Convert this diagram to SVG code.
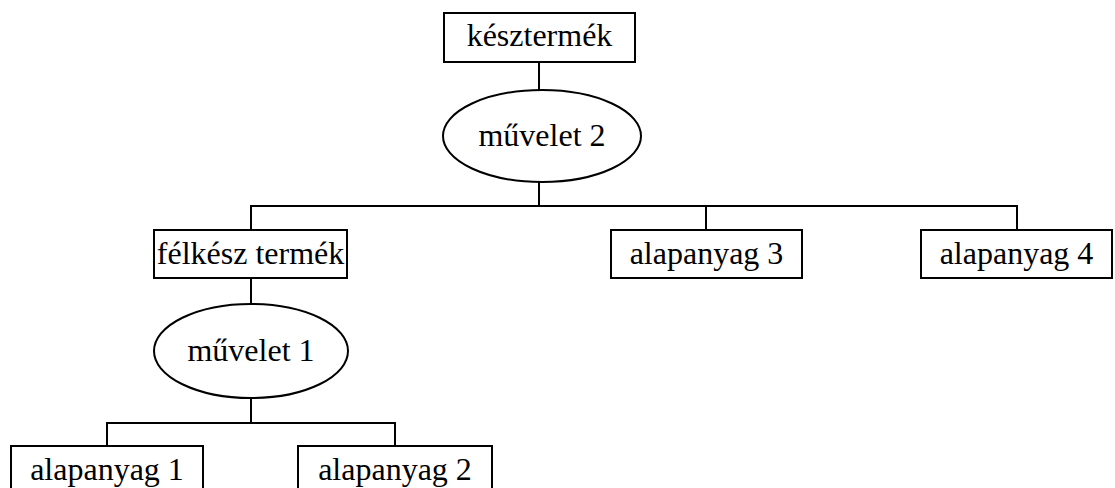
<svg xmlns="http://www.w3.org/2000/svg" width="1115" height="488" viewBox="0 0 1115 488">
  <style>
    .box { fill: #fff; stroke: #000; stroke-width: 2; }
    .op { fill: #fff; stroke: #000; stroke-width: 2; }
    .lbl { font-family: "Liberation Serif", "Times New Roman", serif; font-size: 32px; fill: #000; text-anchor: middle; }
    .wire { fill: none; stroke: #000; stroke-width: 2; }
  </style>
  <rect width="1115" height="488" fill="#fff"/>

  <g id="connectors">
    <line class="wire" x1="539" y1="62" x2="539" y2="90"/>
    <line class="wire" x1="539" y1="182" x2="539" y2="206"/>
    <polyline class="wire" points="251,230 251,206 1017,206 1017,230"/>
    <line class="wire" x1="706" y1="206" x2="706" y2="230"/>
    <line class="wire" x1="251" y1="278" x2="251" y2="304"/>
    <line class="wire" x1="251" y1="398" x2="251" y2="423"/>
    <polyline class="wire" points="107,446 107,423 395,423 395,446"/>
  </g>

  <g id="kesztermek">
    <rect class="box" x="444" y="13" width="191" height="49"/>
    <text class="lbl" x="539.5" y="46">késztermék</text>
  </g>

  <g id="muvelet2">
    <ellipse class="op" cx="542" cy="136" rx="99" ry="46"/>
    <text class="lbl" x="542" y="146">művelet 2</text>
  </g>

  <g id="felkesz">
    <rect class="box" x="154" y="230" width="193" height="48"/>
    <text class="lbl" x="250.5" y="264">félkész termék</text>
  </g>

  <g id="alapanyag3">
    <rect class="box" x="611" y="230" width="191" height="48"/>
    <text class="lbl" x="706.5" y="264">alapanyag 3</text>
  </g>

  <g id="alapanyag4">
    <rect class="box" x="921" y="230" width="191" height="48"/>
    <text class="lbl" x="1016.5" y="264">alapanyag 4</text>
  </g>

  <g id="muvelet1">
    <ellipse class="op" cx="251" cy="351" rx="97" ry="47"/>
    <text class="lbl" x="251" y="361">művelet 1</text>
  </g>

  <g id="alapanyag1">
    <rect class="box" x="11" y="446" width="192" height="48"/>
    <text class="lbl" x="107" y="480">alapanyag 1</text>
  </g>

  <g id="alapanyag2">
    <rect class="box" x="298" y="446" width="194" height="48"/>
    <text class="lbl" x="395" y="480">alapanyag 2</text>
  </g>
</svg>
